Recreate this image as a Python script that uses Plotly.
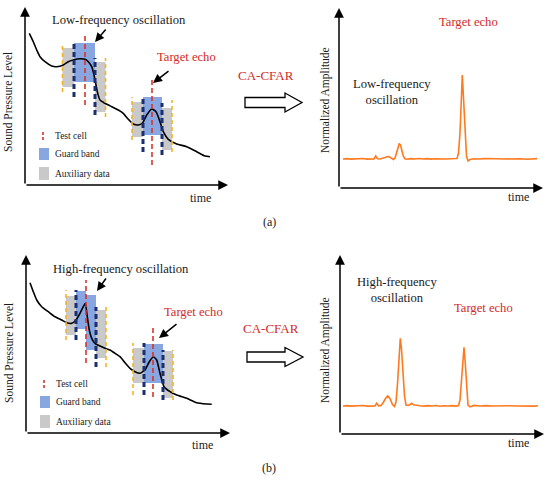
import plotly.graph_objects as go

W, H = 550, 480

# ---------------- data ----------------
# (a) left: sound pressure level vs time (low-frequency oscillation)
t_spl_a = [4.3, 8.3, 11.7, 15, 20, 26.7, 31.7, 38.3, 43.3, 48.3,
           55, 60, 63.3, 66.7, 69, 71, 72.7, 75, 80, 86.7,
           93.3, 98.3, 103.3, 108.3, 113.3, 117.7, 121.7, 126.7, 131, 135,
           138.3, 143.3, 151.7, 161.7, 171.7, 180, 185]
spl_a = [151.7, 143.3, 135, 128.3, 123.3, 119, 118.3, 120, 123.3, 125,
         126.3, 125.7, 123.3, 118.3, 110, 100, 91.7, 85, 81.7, 78.3,
         75, 71.7, 65.7, 61, 60, 62.3, 70, 76, 73.3, 63.3,
         53.3, 45.7, 41, 38.3, 33.3, 29, 28.3]

# (b) left: sound pressure level vs time (high-frequency oscillation)
t_spl_b = [4, 7.3, 10.7, 15.7, 22.3, 29, 35.7, 40.7, 45.7, 50,
           54, 57.3, 59.3, 61.3, 63.3, 65.7, 69, 74, 79, 84,
           89, 94, 99, 104, 109, 114, 119, 123.3, 127.3, 130.7,
           134, 138, 144, 150.7, 160.7, 170.7, 180.7, 185.7]
spl_b = [150.3, 141.3, 133, 126.3, 121.3, 116.3, 113, 110.3, 109.7, 113,
         119.7, 126.3, 129.7, 116.3, 103, 94.7, 89.7, 87, 84.7, 83,
         79.7, 76.3, 70.3, 64.7, 61.3, 59.7, 63, 71.3, 76.3, 73,
         59.7, 46.3, 41.3, 38, 34.7, 30.3, 29, 28.7]

# (a) right: normalized amplitude after CA-CFAR
t_amp_a = [4, 8, 12, 16, 20, 24, 28, 32, 35,
           36.7, 38.5, 41, 44, 46, 48, 49.5, 51, 53, 54.5,
           56, 57.5, 59, 60.3, 61.5, 63, 64.5, 66, 68,
           72, 76, 80, 84, 88, 92, 96, 100, 104, 108,
           112, 116, 118, 119.5, 121, 122.2, 123.3, 124.5, 126, 127.5,
           129, 131, 135, 140, 146, 152, 158, 164, 170, 176,
           182, 188, 194, 198]
amp_a = [29.0, 29.4, 28.9, 29.3, 29.0, 29.5, 28.9, 29.3, 29.0,
         32.0, 29.2, 29.0, 29.6, 30.6, 31.3, 31.5, 30.8, 29.6, 28.6,
         30.0, 34.0, 40.0, 44.5, 43.0, 37.0, 31.5, 29.3, 28.8,
         29.4, 29.0, 29.5, 29.0, 29.4, 28.9, 29.3, 29.0, 29.4, 29.0,
         29.3, 29.0, 29.5, 35.0, 55.0, 85.0, 113.0, 90.0, 55.0, 32.0,
         27.0, 28.5, 29.3, 29.0, 29.4, 29.0, 29.3, 29.0, 29.2, 28.9,
         29.2, 28.8, 29.1, 29.4]

# (b) right: normalized amplitude after CA-CFAR
t_amp_b = [3, 7, 11, 15, 19, 23, 27, 31, 35,
           36.7, 38.5, 41, 43, 45.5, 47.7, 50, 52.5, 54.5, 56,
           57.5, 59, 60.3, 61.5, 63, 64.5, 66, 68, 70, 71.7,
           73.5, 76, 80, 84, 88, 92, 96, 100, 104, 108,
           112, 116, 118.5, 120, 121.5, 122.8, 124, 125.2, 126.5, 128,
           130, 134, 140, 146, 152, 158, 164, 170, 176, 182,
           188, 194, 198]
amp_b = [28.0, 28.4, 27.9, 28.3, 28.0, 28.5, 27.9, 28.3, 28.0,
         30.7, 28.2, 28.6, 31.0, 35.5, 38.0, 35.5, 29.5, 27.5, 32.0,
         50.0, 78.0, 95.7, 85.0, 60.0, 38.0, 29.0, 28.5, 29.5, 30.7,
         29.2, 28.6, 28.3, 27.9, 28.4, 28.0, 28.5, 27.8, 28.3, 28.0,
         28.4, 27.9, 28.5, 34.0, 55.0, 75.0, 86.7, 72.0, 45.0, 29.0,
         27.2, 28.6, 28.0, 28.4, 28.0, 28.3, 27.9, 28.2, 28.0, 27.8,
         28.1, 27.9, 28.3]

# CFAR sliding windows: cell edges [aux L, guard L, test cell, guard R, aux R]
win_a1_edges = [37.5, 49, 60, 70, 80.5]
win_a1_rects = [[98, 137], [103, 142], [103, 142], [73, 123]]   # aux L, guard L, guard R, aux R
win_a1_lines = [[93, 141], [88, 142], [80, 152], [70, 127], [68, 127]]

win_a2_edges = [107, 118, 127, 137, 147]
win_a2_rects = [[48, 83], [50, 88], [50, 88], [35, 77]]
win_a2_lines = [[45, 88], [33, 88], [20, 105], [30, 82], [33, 85]]

win_b1_edges = [40, 50, 60, 70, 80]
win_b1_rects = [[98, 137], [104, 142], [83, 138], [75, 123]]
win_b1_lines = [[93, 143], [93, 143], [70, 153], [66, 126], [66, 128]]

win_b2_edges = [107, 118, 127, 137, 147]
win_b2_rects = [[50, 85], [50, 89], [50, 89], [35, 82]]
win_b2_lines = [[38, 90], [38, 90], [36, 105], [33, 83], [33, 83]]

legend_labels = ["Test cell", "Guard band", "Auxiliary data"]

# ---------------- styles ----------------
FONT = "Liberation Serif"
TXT = "#1a1a1a"
RED = "#d42a2a"
ORANGE = "#ff7a1f"
BLUE = "#88a6e0"
GRAY = "#c9c9c9"
NAVY = "#1b2f6e"
GOLD = "#f5b324"
DRED = "#d9342b"

fig = go.Figure()

# panel geometry: pixel box of domain and pixel origin of the drawn axes
panels = {
    "aL": dict(n="", box=(0, 240, 0, 205), origin=(25, 185), tip=(203, 178)),
    "aR": dict(n="2", box=(300, 550, 0, 205), origin=(339, 188), tip=(204, 180)),
    "bL": dict(n="3", box=(0, 240, 245, 455), origin=(26, 433), tip=(204, 178)),
    "bR": dict(n="4", box=(300, 550, 245, 455), origin=(340, 434), tip=(204, 179)),
}

annotations = []
shapes = []

for key, p in panels.items():
    n = p["n"]
    x0, x1, y0, y1 = p["box"]
    ox, oy = p["origin"]
    fig.layout["xaxis" + n] = dict(domain=[x0 / W, x1 / W], range=[x0 - ox, x1 - ox],
                                   visible=False, fixedrange=True,
                                   anchor="y" + n)
    fig.layout["yaxis" + n] = dict(domain=[1 - y1 / H, 1 - y0 / H], range=[oy - y1, oy - y0],
                                   visible=False, fixedrange=True,
                                   anchor="x" + n)
    xr, yr = "x" + n, "y" + n
    tx, ty = p["tip"]
    # axis arrows
    for (hx, hy) in [(tx, 0), (0, ty)]:
        annotations.append(dict(x=hx, y=hy, ax=0, ay=0, xref=xr, yref=yr, axref=xr, ayref=yr,
                                text="", showarrow=True, arrowhead=2, arrowsize=1.3,
                                arrowwidth=1.5, arrowcolor="black", standoff=0))
    p["xr"], p["yr"] = xr, yr


def add_text(p, x, y, text, color=TXT, size=12, angle=0, xanchor="center"):
    annotations.append(dict(x=x, y=y, xref=p["xr"], yref=p["yr"], text=text, showarrow=False,
                            font=dict(family=FONT, size=size, color=color), textangle=angle,
                            xanchor=xanchor, yanchor="middle"))


def add_pointer(p, head, tail):
    annotations.append(dict(x=head[0], y=head[1], ax=tail[0], ay=tail[1],
                            xref=p["xr"], yref=p["yr"], axref=p["xr"], ayref=p["yr"],
                            text="", showarrow=True, arrowhead=2, arrowsize=1.2,
                            arrowwidth=1.5, arrowcolor="black", standoff=0))


def add_window(p, edges, rects, lines):
    fills = [GRAY, BLUE, BLUE, GRAY]
    for i in range(4):
        shapes.append(dict(type="rect", xref=p["xr"], yref=p["yr"], x0=edges[i], x1=edges[i + 1],
                           y0=rects[i][0], y1=rects[i][1], fillcolor=fills[i],
                           line=dict(width=0), layer="below"))
    styles = [(GOLD, 1.6, "4px,3px"), (NAVY, 3, "5px,3px"), (DRED, 1.6, "5px,3px"),
              (NAVY, 3, "5px,3px"), (GOLD, 1.6, "4px,3px")]
    for i in range(5):
        c, w, d = styles[i]
        shapes.append(dict(type="line", xref=p["xr"], yref=p["yr"], x0=edges[i], x1=edges[i],
                           y0=lines[i][0], y1=lines[i][1], line=dict(color=c, width=w, dash=d),
                           layer="above"))


def add_legend(p):
    shapes.append(dict(type="line", xref=p["xr"], yref=p["yr"], x0=18, x1=18, y0=45, y1=54,
                       line=dict(color=DRED, width=1.6, dash="3px,2px"), layer="above"))
    shapes.append(dict(type="rect", xref=p["xr"], yref=p["yr"], x0=14, x1=24, y0=25, y1=37,
                       fillcolor=BLUE, line=dict(width=0), layer="below"))
    shapes.append(dict(type="rect", xref=p["xr"], yref=p["yr"], x0=14, x1=24, y0=5, y1=18,
                       fillcolor=GRAY, line=dict(width=0), layer="below"))
    for lab, yy in zip(legend_labels, [49, 31, 11]):
        add_text(p, 28, yy, lab, size=9.5, xanchor="left")


# ---- (a) left ----
pa = panels["aL"]
fig.add_trace(go.Scatter(x=t_spl_a, y=spl_a, mode="lines", xaxis="x", yaxis="y",
                         line=dict(color="black", width=1.6, shape="spline", smoothing=0.6),
                         hoverinfo="skip", showlegend=False))
add_window(pa, win_a1_edges, win_a1_rects, win_a1_lines)
add_window(pa, win_a2_edges, win_a2_rects, win_a2_lines)
add_legend(pa)
add_text(pa, 94, 165, "Low-frequency oscillation", size=12.6)
add_pointer(pa, (70, 143), (82, 157))
add_text(pa, 161, 128, "Target echo", color=RED, size=12.6)
add_pointer(pa, (128, 102), (145, 115))
add_text(pa, -17, 83, "Sound Pressure Level", size=11.5, angle=-90)
add_text(pa, 175, -13, "time")

# ---- (a) right ----
pr = panels["aR"]
fig.add_trace(go.Scatter(x=t_amp_a, y=amp_a, mode="lines", xaxis="x2", yaxis="y2",
                         line=dict(color=ORANGE, width=1.6),
                         hoverinfo="skip", showlegend=False))
add_text(pr, 129, 166, "Target echo", color=RED, size=12.6)
add_text(pr, 53, 96, "Low-frequency<br>oscillation", size=12.6)
add_text(pr, -14, 88, "Normalized Amplitude", size=11.5, angle=-90)
add_text(pr, 179, -9, "time")

# ---- (b) left ----
pb = panels["bL"]
fig.add_trace(go.Scatter(x=t_spl_b, y=spl_b, mode="lines", xaxis="x3", yaxis="y3",
                         line=dict(color="black", width=1.6, shape="spline", smoothing=0.5),
                         hoverinfo="skip", showlegend=False))
add_window(pb, win_b1_edges, win_b1_rects, win_b1_lines)
add_window(pb, win_b2_edges, win_b2_rects, win_b2_lines)
add_legend(pb)
add_text(pb, 95, 164, "High-frequency oscillation", size=12.6)
add_pointer(pb, (71, 142), (81, 156))
add_text(pb, 167, 121, "Target echo", color=RED, size=12.6)
add_pointer(pb, (133, 95), (152, 110))
add_text(pb, -17, 80, "Sound Pressure Level", size=11.5, angle=-90)
add_text(pb, 176, -12, "time")

# ---- (b) right ----
pbr = panels["bR"]
fig.add_trace(go.Scatter(x=t_amp_b, y=amp_b, mode="lines", xaxis="x4", yaxis="y4",
                         line=dict(color=ORANGE, width=1.6),
                         hoverinfo="skip", showlegend=False))
add_text(pbr, 57, 144, "High-frequency<br>oscillation", size=12.6)
add_text(pbr, 143, 126, "Target echo", color=RED, size=12.6)
add_text(pbr, -15, 84, "Normalized Amplitude", size=11.5, angle=-90)
add_text(pbr, 178, -9, "time")


# ---- CA-CFAR block arrows and captions (paper coordinates) ----
def px(x):
    return x / W


def py(y):
    return 1 - y / H


def block_arrow(x0, x1, yc, shaft_h, head_h, head_len):
    xs = x1 - head_len
    pts = [(x0, yc - shaft_h), (xs, yc - shaft_h), (xs, yc - head_h), (x1, yc),
           (xs, yc + head_h), (xs, yc + shaft_h), (x0, yc + shaft_h)]
    path = "M " + " L ".join(f"{px(a):.5f},{py(b):.5f}" for a, b in pts) + " Z"
    shapes.append(dict(type="path", xref="paper", yref="paper", path=path,
                       fillcolor="white", line=dict(color="black", width=1.3)))


block_arrow(245, 302, 102.5, 5, 9.5, 17)
block_arrow(247, 303, 357, 5, 9.5, 18)

for (cx, cy, txt, col, sz) in [(266, 75, "CA-CFAR", RED, 13), (271, 328, "CA-CFAR", RED, 13),
                               (269, 222, "(a)", TXT, 12), (269, 468, "(b)", TXT, 12)]:
    annotations.append(dict(x=px(cx), y=py(cy), xref="paper", yref="paper", text=txt,
                            showarrow=False, font=dict(family=FONT, size=sz, color=col),
                            xanchor="center", yanchor="middle"))

fig.update_layout(width=W, height=H, margin=dict(l=0, r=0, t=0, b=0),
                  paper_bgcolor="white", plot_bgcolor="rgba(0,0,0,0)",
                  annotations=annotations, shapes=shapes, showlegend=False)

fig.write_html("out.html", config={"displayModeBar": False},
               post_script="document.body.style.margin='0';document.body.style.overflow='hidden';")
